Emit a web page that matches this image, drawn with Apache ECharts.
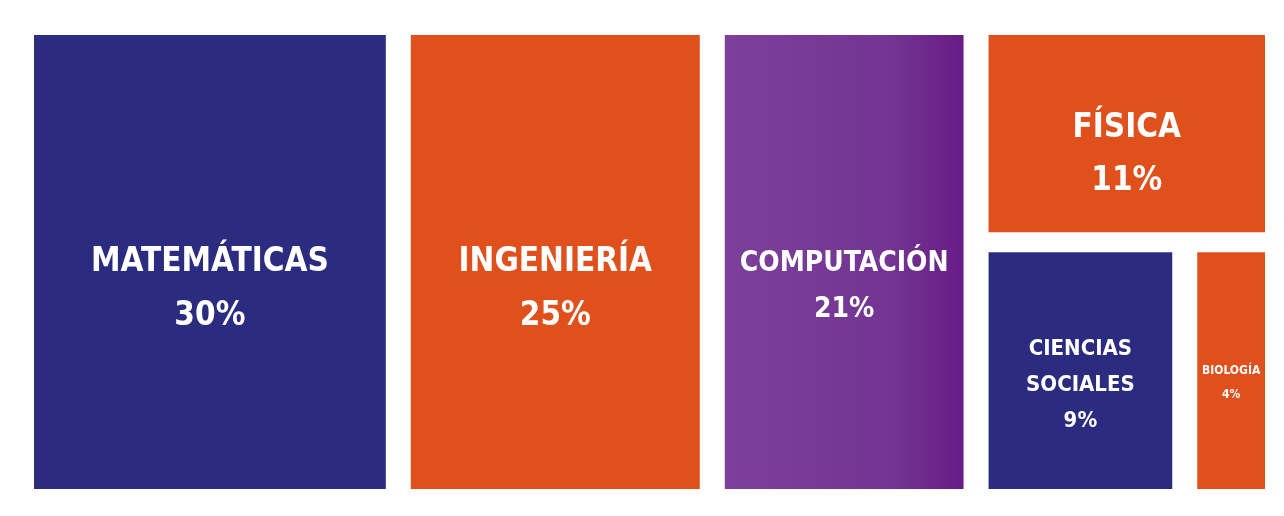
<!DOCTYPE html>
<html>
<head>
<meta charset="utf-8">
<script src="https://cdn.jsdelivr.net/npm/echarts@6/dist/echarts.min.js"></script>
<style>
  html, body { margin: 0; padding: 0; background: #fff; }
  #chart { width: 1284px; height: 516px; }
</style>
</head>
<body>
<div id="chart"></div>
<script>
const areas = ['MATEMÁTICAS', 'INGENIERÍA', 'COMPUTACIÓN', 'FÍSICA', 'CIENCIAS\nSOCIALES', 'BIOLOGÍA']
const shares = [30, 25, 21, 11, 9, 4]

const BLUE = '#2b2c80'
const ORANGE = '#e0501c'
const PURPLE = new echarts.graphic.LinearGradient(0, 0, 1, 0, [
    { offset: 0, color: '#7c409a' },
    { offset: 0.7, color: '#733493' },
    { offset: 1, color: '#681c86' }
])

const leaf = (i, color, fontSize, lineHeight, dy) => ({
    name: areas[i],
    value: shares[i],
    itemStyle: { color },
    label: { fontSize, lineHeight, offset: [0, dy] }
})

const data = [
    leaf(0, BLUE, 33, 54, 27),
    leaf(1, ORANGE, 33, 54, 27),
    leaf(2, PURPLE, 28, 46, 25),
    {
        name: 'resto',
        children: [
            leaf(3, ORANGE, 33, 53, 21),
            {
                name: 'resto2',
                children: [
                    leaf(4, BLUE, 22, 36, 15),
                    leaf(5, ORANGE, 12, 24, 12)
                ]
            }
        ]
    }
]

const chart = echarts.init(document.getElementById('chart'))
chart.setOption({
    backgroundColor: '#fff',
    series: [{
        type: 'treemap',
        left: 34,
        top: 35,
        right: 19,
        bottom: 27,
        sort: false,
        squareRatio: 1,
        roam: false,
        nodeClick: false,
        breadcrumb: { show: false },
        animation: false,
        label: {
            show: true,
            position: 'inside',
            align: 'center',
            verticalAlign: 'middle',
            overflow: 'none',
            color: '#fff',
            fontFamily: '"DejaVu Sans Condensed", sans-serif',
            fontWeight: 'bold',
            formatter: p => `${p.name}\n${p.value}%`
        },
        upperLabel: { show: false },
        levels: [
            { itemStyle: { borderWidth: 0, gapWidth: 25, borderColor: '#fff' } },
            { itemStyle: { borderWidth: 0, gapWidth: 20, borderColor: '#fff' } },
            { itemStyle: { borderWidth: 0, gapWidth: 25, borderColor: '#fff' } },
            { itemStyle: { borderWidth: 0, borderColor: '#fff' } }
        ],
        data
    }]
})
</script>
</body>
</html>
